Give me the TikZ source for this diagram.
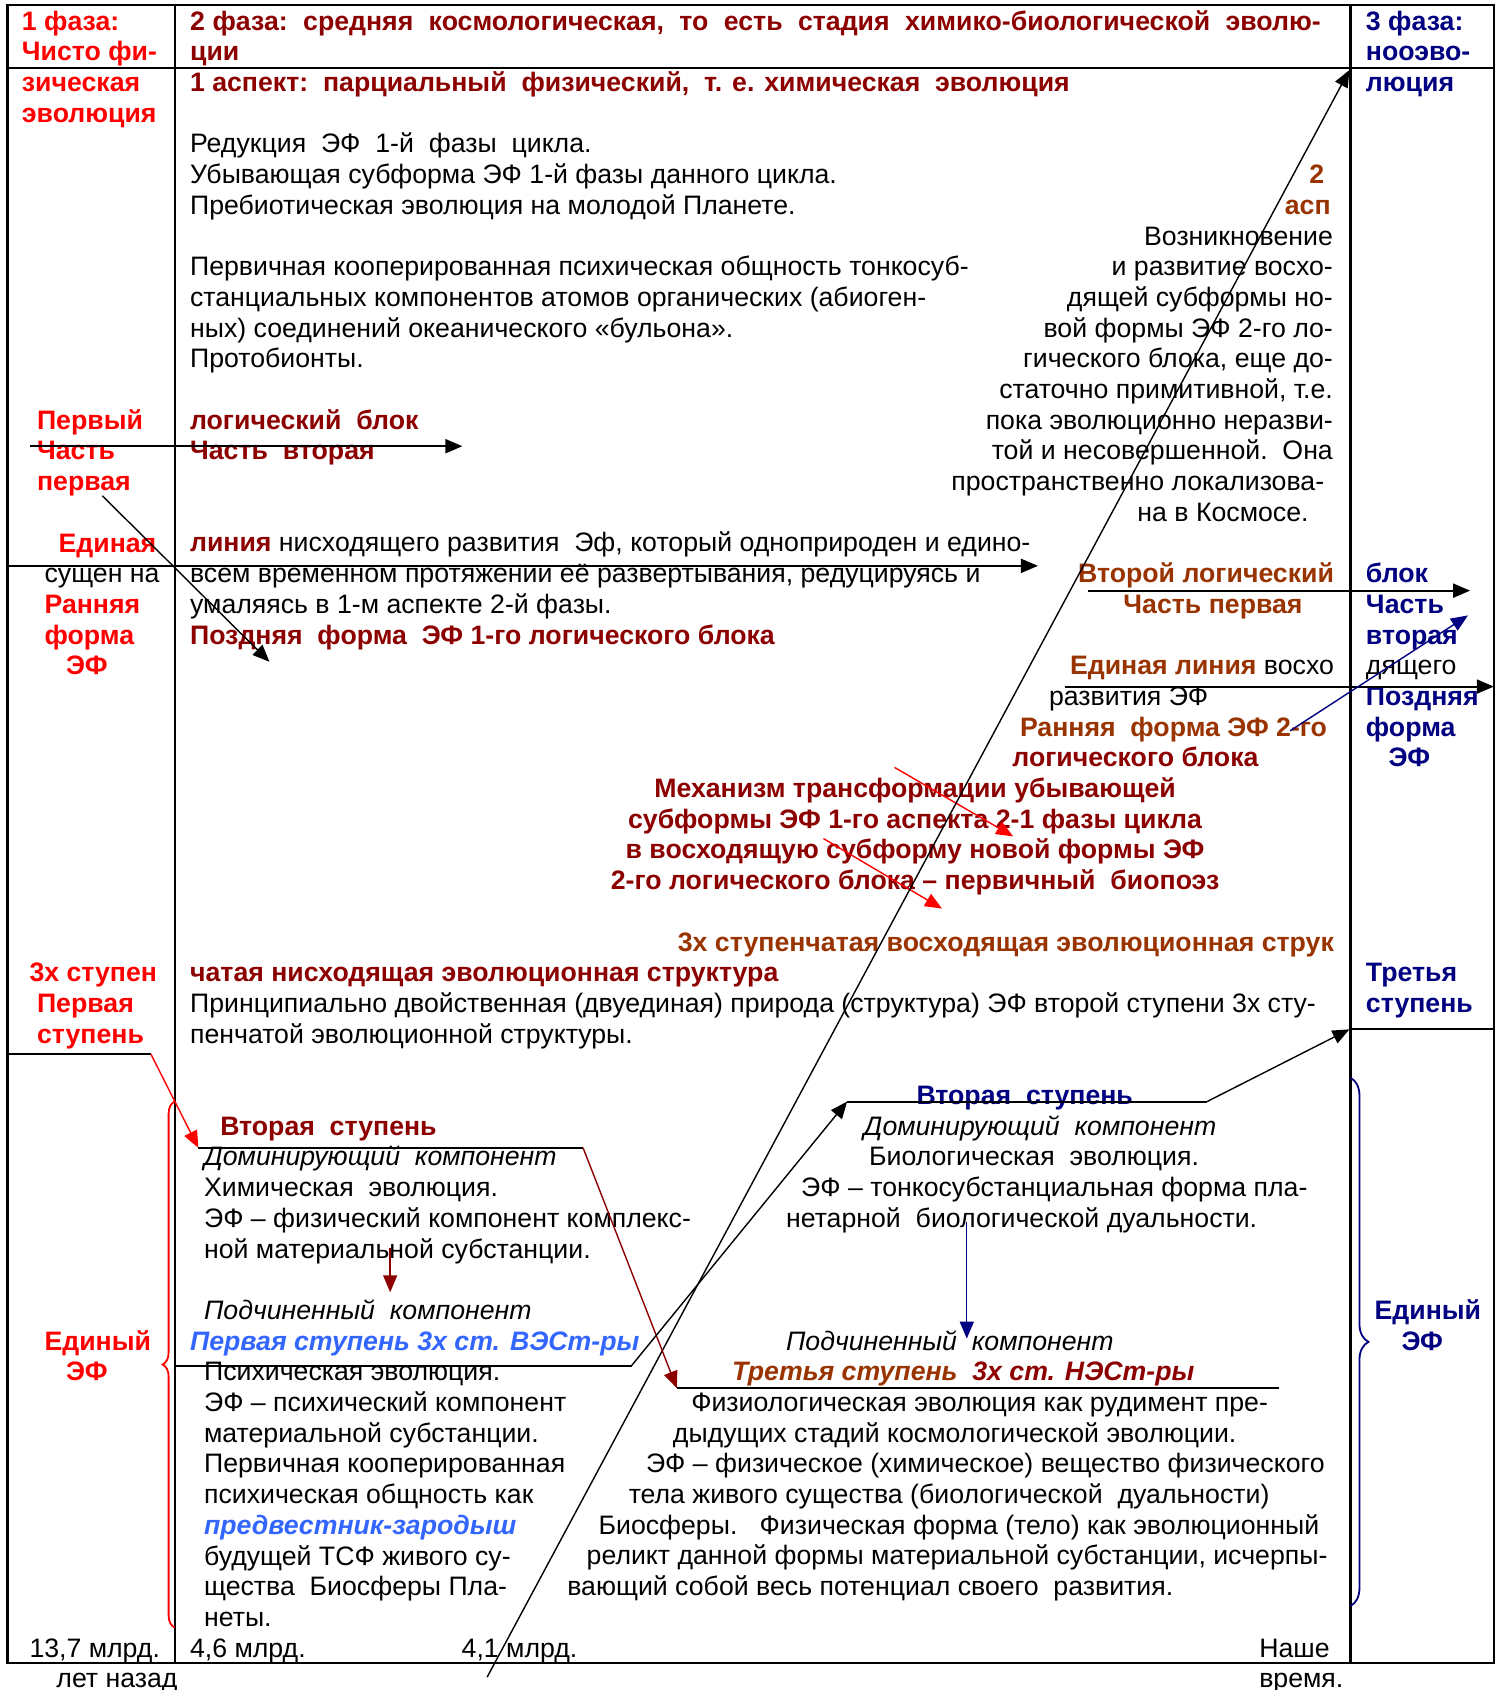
\documentclass[tikz,border=0pt]{standalone}
\usepackage{fontspec}
\setmainfont{Liberation Sans}
\usetikzlibrary{arrows.meta, decorations.pathreplacing}
\definecolor{phasered}{RGB}{255,0,0}
\definecolor{deepred}{RGB}{140,0,0}
\definecolor{rust}{RGB}{153,51,0}
\definecolor{navyblue}{RGB}{0,0,128}
\definecolor{skyblue}{RGB}{51,102,255}
\newlength\pxu
\setlength\pxu{0.54pt}
\newcommand\bodyfont{\fontsize{13.37pt}{15.38pt}\selectfont}
% multi-line nodes sit on the baseline of their last line
\tikzset{
  body/.style={inner sep=0pt, anchor=base west, align=left, font=\bodyfont},
  hdred/.style={body, text=phasered, font=\bodyfont\bfseries},
  hddark/.style={body, text=deepred, font=\bodyfont\bfseries},
  hdrust/.style={body, text=rust, font=\bodyfont\bfseries},
  hdnavy/.style={body, text=navyblue, font=\bodyfont\bfseries},
  emblue/.style={body, text=skyblue, font=\bodyfont\bfseries\itshape},
  frame/.style={line width=1.1pt},
  arr/.style={-{Triangle[length=8.5pt,width=7pt]}},
  thickarr/.style={arr, line width=1pt},
  thinarr/.style={arr, line width=0.7pt},
}
\begin{document}
\begin{tikzpicture}[x=0.54pt, y=-0.54pt]
  \useasboundingbox (0,0) rectangle (1395,1568);
  \fill[white] (0,0) rectangle (1395,1568);

  % table frame
  \draw[frame] (7,5) rectangle (1386,1543);
  \draw[frame] (162,5) -- (162,1543);
  \draw[frame] (1253,5) -- (1253,1543);
  \draw[frame] (7,63) -- (1386,63);
  \draw[frame] (1253,955) -- (1386,955);

  % column 1
  \node[hdred] (ph1) at (20,113.4) {1 фаза:\\Чисто фи-\\зическая\\эволюция};
  \node[hdred] (blk1a) at (34,455.2) {Первый\\Часть\\первая};
  \node[hdred] (line1a) at (54,512.2) {Единая};
  \node[body] (line1b) at (41,540.6) {сущен на};
  \node[hdred] (early1) at (41,597.6) {Ранняя\\форма};
  \node[hdred] (early1e) at (61,626.1) {ЭФ};
  \node[hdred] (stair1a) at (27,910.9) {3х ступен};
  \node[hdred] (step1) at (34,967.8) {Первая\\ступень};
  \node[hdred] (one1) at (41,1252.6) {Единый};
  \node[hdred] (one1e) at (61,1281.1) {ЭФ};
  \node[body] (t137) at (27,1537.4) {13,7 млрд.};
  \node[body] (tago) at (52,1565.9) {лет назад};

  % column 2, upper part
  \node[hddark] (ph2) at (176,56.5) {\makebox[1049\pxu][s]{2 фаза:\ \ средняя\ \ космологическая,\ \ то\ \ есть\ \ стадия\ \ химико-биологической\ \ эволю-}\\ции};
  \node[hddark] (asp1) at (176,85) {1 аспект:\ \ парциальный\ \ физический,\ \ т. е. химическая\ \ эволюция};
  \node[body] (redu) at (176,198.9) {Редукция\ \ ЭФ\ \ 1-й\ \ фазы\ \ цикла.\\Убывающая субформа ЭФ 1-й фазы данного цикла.\\Пребиотическая эволюция на молодой Планете.};
  \node[body] (proto) at (176,341.3) {Первичная кооперированная психическая общность тонкосуб-\\станциальных компонентов атомов органических (абиоген-\\ных) соединений океанического «бульона».\\Протобионты.};
  \node[hddark] (blk1b) at (176,426.7) {логический\ \ блок\\Часть\ \ вторая};
  \node[body] (line1c) at (176,569.1) {{\bfseries\color{deepred}линия} нисходящего развития\ \ Эф, который одноприроден и едино-\\всем временном протяжении её развертывания, редуцируясь и\\умаляясь в 1-м аспекте 2-й фазы.};
  \node[hddark] (late1) at (176,597.6) {Поздняя\ \ форма\ \ ЭФ 1-го логического блока};

  % second aspect
  \node[hdrust, anchor=base east, align=right] (asp2) at (1235,198.9) {2\hspace*{6\pxu}\\асп};
  \node[body, anchor=base east, align=right] (rise2) at (1237,455.2) {Возникновение\\и развитие восхо-\hspace*{4\pxu}\\дящей субформы но-\\вой формы ЭФ 2-го ло-\\гического блока, еще до-\\статочно примитивной, т.е.\\пока эволюционно неразви-\hspace*{4\pxu}\\той и несовершенной.\ \ Она\hspace*{4\pxu}\\пространственно локализова-\hspace*{8\pxu}};
  \node[body] (rise2e) at (1055,483.7) {на в Космосе.};
  \node[hdrust, anchor=base east] (blk2a) at (1238,540.6) {Второй логический};
  \node[hdrust] (blk2b) at (1042,569.1) {Часть первая};
  \node[body, anchor=base east] (line2a) at (1238,626.1) {{\bfseries\color{rust}Единая линия} восхо};
  \node[body] (line2b) at (973,654.6) {развития ЭФ};
  \node[hdrust] (early2) at (946,683) {Ранняя\ \ форма ЭФ 2-го};
  \node[hddark] (early2b) at (939,711.5) {логического блока};
  \node[hddark, anchor=base, align=center] (mech) at (849,825.4) {Механизм трансформации убывающей\\субформы ЭФ 1-го аспекта 2-1 фазы цикла\\в восходящую субформу новой формы ЭФ\\2-го логического блока – первичный\ \ биопоэз};
  \node[hdrust, anchor=base east] (stair2) at (1238,882.4) {3х ступенчатая восходящая эволюционная струк};
  \node[hddark] (stair1) at (176,910.9) {чатая нисходящая эволюционная структура};
  \node[body] (dual) at (176,967.8) {Принципиально двойственная (двуединая) природа (структура) ЭФ второй ступени 3х сту-\\пенчатой эволюционной структуры.};

  % column 3
  \node[hdnavy] (ph3) at (1267,85) {3 фаза:\\нооэво-\\люция};
  \node[hdnavy] (blk2c) at (1267,597.6) {блок\\Часть\\вторая};
  \node[body] (line2c) at (1267,626.1) {дящего};
  \node[hdnavy] (late2) at (1267,683) {Поздняя\\форма};
  \node[hdnavy] (late2e) at (1288,711.5) {ЭФ};
  \node[hdnavy] (step3) at (1267,939.4) {Третья\\ступень};
  \node[hdnavy] (one3) at (1275,1224.2) {Единый};
  \node[hdnavy] (one3e) at (1300,1252.6) {ЭФ};

  % first and second steps, left
  \node[hddark] (st2a) at (204,1053.3) {Вторая\ \ ступень};
  \node[body] (chem) at (189,1167.2) {{\itshape Доминирующий\ \ компонент}\\Химическая\ \ эволюция.\\ЭФ – физический компонент комплекс-\\ной материальной субстанции.};
  \node[body] (sub1) at (189,1224.2) {\itshape Подчиненный\ \ компонент};
  \node[emblue] (st1) at (176,1252.6) {Первая ступень 3х ст. ВЭСт-ры};
  \node[body] (psy) at (189,1509) {Психическая эволюция.\\ЭФ – психический компонент\\материальной субстанции.\\Первичная кооперированная\\психическая общность как\\{\bfseries\itshape\color{skyblue}предвестник-зародыш}\\будущей ТСФ живого су-\\щества\ \ Биосферы Пла-\\неты.};

  % second and third steps, right
  \node[hdnavy] (st2c) at (850,1024.8) {Вторая\ \ ступень};
  \node[body] (dom2) at (801,1053.3) {\itshape Доминирующий\ \ компонент};
  \node[body] (bio1) at (806,1081.8) {Биологическая\ \ эволюция.};
  \node[body] (bio2) at (743,1110.2) {ЭФ – тонкосубстанциальная форма пла-};
  \node[body] (bio3) at (729,1138.7) {нетарной\ \ биологической дуальности.};
  \node[body] (sub2) at (729,1252.6) {\itshape Подчиненный\ \ компонент};
  \node[body] (st3) at (679,1281.1) {{\bfseries\itshape\color{rust}Третья ступень}\ \ {\bfseries\itshape\color{deepred}3х ст. НЭСт-ры}};
  \node[body] (phys1) at (641,1309.6) {Физиологическая эволюция как рудимент пре-};
  \node[body] (phys2) at (624,1338.1) {дыдущих стадий космологической эволюции.};
  \node[body] (phys3) at (599,1366.6) {ЭФ – физическое (химическое) вещество физического};
  \node[body] (phys4) at (583,1395) {тела живого существа (биологической\ \ дуальности)};
  \node[body] (phys5) at (555,1423.5) {Биосферы.\ \ \ Физическая форма (тело) как эволюционный};
  \node[body] (phys6) at (544,1452) {реликт данной формы материальной субстанции, исчерпы-};
  \node[body] (phys7) at (526,1480.5) {вающий собой весь потенциал своего\ \ развития.};

  % time marks
  \node[body] (t46) at (176,1537.4) {4,6 млрд.};
  \node[body] (t41) at (428,1537.4) {4,1 млрд.};
  \node[body] (tnow) at (1168,1565.9) {Наше\\время.};

  % arrow ends
  \coordinate (a1s) at (28,414);   \coordinate (a1e) at (429,414);
  \coordinate (a2s) at (95,460);   \coordinate (a2e) at (250,614);
  \coordinate (a3s) at (7,525);    \coordinate (a3e) at (963,525);
  \coordinate (a4s) at (1009,548); \coordinate (a4e) at (1364,548);
  \coordinate (a5s) at (988,637);  \coordinate (a5e) at (1386,637);
  \coordinate (a6s) at (1197,678); \coordinate (a6e) at (1362,571);
  \coordinate (r1s) at (830,712);  \coordinate (r1e) at (940,776);
  \coordinate (r2s) at (764,778);  \coordinate (r2e) at (874,843);
  \coordinate (lgs) at (452,1556); \coordinate (lge) at (1252,65);
  \coordinate (d0) at (7,978);     \coordinate (d1) at (140,978);
  \coordinate (d2) at (184,1065);  \coordinate (d3) at (541,1065);
  \coordinate (d4) at (628,1288);  \coordinate (d5) at (1187,1288);
  \coordinate (u0) at (162,1267);  \coordinate (u1) at (586,1267);
  \coordinate (u2) at (786,1022);  \coordinate (u3) at (1120,1022);
  \coordinate (u4) at (1252,955);
  \coordinate (m1s) at (362,1158); \coordinate (m1e) at (362,1199);
  \coordinate (m2s) at (897,1134); \coordinate (m2e) at (897,1242);
  \coordinate (b1s) at (162,1510); \coordinate (b1e) at (162,1022);
  \coordinate (b2s) at (1253,1000); \coordinate (b2e) at (1253,1490);

  % logical blocks and lines
  \draw[thickarr] (a1s) -- (a1e);
  \draw[thinarr] (a2s) -- (a2e);
  \draw[thickarr] (a3s) -- (a3e);
  \draw[thickarr] (a4s) -- (a4e);
  \draw[thickarr] (a5s) -- (a5e);
  \draw[thinarr, navyblue] (a6s) -- (a6e);
  \draw[thinarr, red] (r1s) -- (r1e);
  \draw[thinarr, red] (r2s) -- (r2e);
  \draw[thinarr] (lgs) -- (lge);

  % descending steps
  \draw[frame] (d0) -- (d1);
  \draw[thinarr, red] (d1) -- (d2);
  \draw[line width=1pt] (d2) -- (d3);
  \draw[thinarr, deepred] (d3) -- (d4);
  \draw[line width=1pt] (d4) -- (d5);
  \draw[thinarr, deepred] (m1s) -- (m1e);

  % ascending steps
  \draw[line width=1pt] (u0) -- (u1);
  \draw[thinarr] (u1) -- (u2);
  \draw[line width=1pt] (u2) -- (u3);
  \draw[thinarr] (u3) -- (u4);
  \draw[thinarr, navyblue] (m2s) -- (m2e);

  % braces
  \draw[red, line width=0.9pt, decorate, decoration={brace, amplitude=6pt}] (b1s) -- (b1e);
  \draw[navyblue, line width=0.9pt, decorate, decoration={brace, amplitude=9pt}] (b2s) -- (b2e);
\end{tikzpicture}
\end{document}
